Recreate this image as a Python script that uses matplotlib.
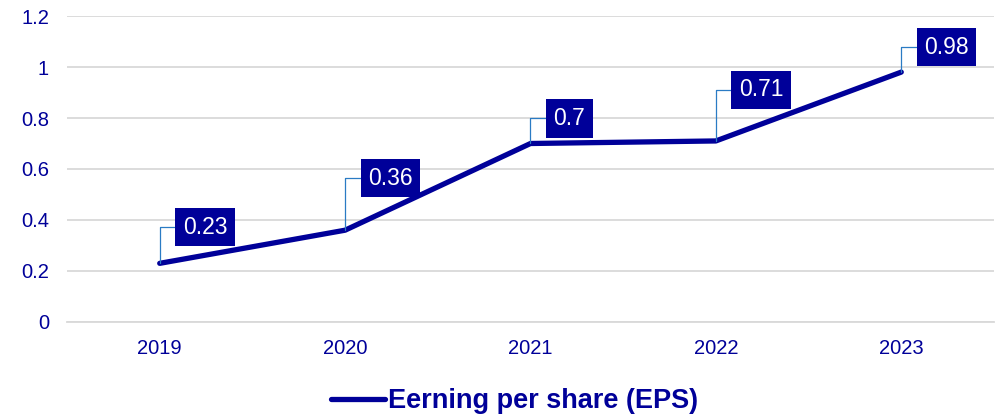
import matplotlib.pyplot as plt

plt.rcParams['font.family'] = ['Liberation Sans', 'DejaVu Sans']

# data
years = ['2019', '2020', '2021', '2022', '2023']
eps = [0.23, 0.36, 0.70, 0.71, 0.98]
label_rise = [36, 52, 25, 51, 25]  # label height above point, in pixels

navy = '#000099'
leader = '#2a7bc4'

fig = plt.figure(figsize=(10.05, 4.18), dpi=100)
ax = fig.add_axes([0.0667, 0.2297, 0.9223, 0.732])

x = list(range(len(years)))
ax.plot(x, eps, color=navy, linewidth=3.8, solid_capstyle='round',
        label='Eerning per share (EPS)', zorder=3)

for xi, v, rise in zip(x, eps, label_rise):
    ax.annotate(f'{v:g}', xy=(xi, v), xytext=(23, rise), textcoords='offset pixels',
                ha='left', va='center', color='white', fontsize=16.5,
                bbox=dict(boxstyle='square,pad=0.33', fc=navy, ec='none'),
                arrowprops=dict(arrowstyle='-', color=leader, lw=0.9,
                                connectionstyle='angle,angleA=0,angleB=90,rad=0',
                                shrinkA=0, shrinkB=0, relpos=(0, 0.5)),
                zorder=4)

ax.set_xlim(-0.5, len(years) - 0.5)
ax.set_ylim(0, 1.2)
ax.set_xticks(x)
ax.set_xticklabels(years)
ax.set_yticks([0, 0.2, 0.4, 0.6, 0.8, 1.0, 1.2])
ax.set_yticklabels(['0', '0.2', '0.4', '0.6', '0.8', '1', '1.2'])
ax.tick_params(colors=navy, labelsize=14.5, length=0)
ax.tick_params(axis='y', pad=13)
ax.tick_params(axis='x', pad=12)
ax.grid(axis='y', color='#d9d9d9', linewidth=1.3)
ax.set_axisbelow(True)
for s in ax.spines.values():
    s.set_visible(False)
ax.spines['bottom'].set_visible(True)
ax.spines['bottom'].set_color('#d9d9d9')
ax.spines['bottom'].set_linewidth(1.3)

leg = fig.legend(loc='center', bbox_to_anchor=(0.512, 0.04), frameon=False,
                 handlelength=2.0, handletextpad=0.12,
                 prop={'size': 19.5, 'weight': 'bold'})
for t in leg.get_texts():
    t.set_color(navy)

fig.savefig('out.png', dpi=100)
